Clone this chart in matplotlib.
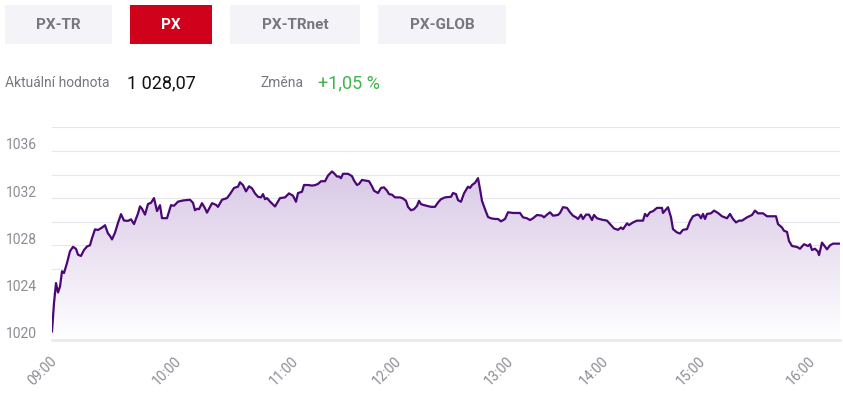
'''
    PX index intraday chart
'''

import numpy as np
import matplotlib
matplotlib.use('Agg')
import matplotlib.pyplot as plt
from matplotlib.patches import Rectangle
from matplotlib.colors import LinearSegmentedColormap
import matplotlib.transforms as mtransforms

plt.rcParams.update({'font.family': ['Roboto', 'DejaVu Sans']})

W, H = 843, 399

tabs = ['PX-TR', 'PX', 'PX-TRnet', 'PX-GLOB']
active_tab = 'PX'
current_value = '1 028,07'
change = '+1,05 %'

# position of each quote along the (ordinal) session axis
step = [0, 2, 4, 6, 8, 10, 12, 15, 18, 21, 24, 26, 29, 32, 35, 38, 40, 43, 46, 50,
        53, 56, 58, 60, 63, 66, 69, 72, 76, 79, 82, 86, 88, 90, 93, 96, 99, 102, 105, 108,
        110, 115, 119, 122, 126, 131, 138, 141, 143, 145, 147, 150, 153, 155, 160, 164, 166, 170, 175, 178,
        182, 186, 188, 191, 194, 197, 200, 203, 206, 209, 211, 213, 215, 218, 223, 228, 233, 237, 241, 244,
        246, 250, 252, 256, 260, 263, 266, 269, 273, 276, 280, 282, 285, 287, 289, 291, 296, 300, 302, 305,
        307, 310, 313, 317, 320, 322, 326, 329, 332, 335, 337, 340, 343, 348, 351, 354, 356, 359, 362, 365,
        367, 369, 371, 375, 379, 383, 386, 389, 393, 399, 401, 404, 406, 409, 412, 416, 418, 420, 423, 426,
        428, 430, 433, 436, 439, 443, 446, 449, 453, 456, 461, 468, 471, 475, 478, 481, 485, 490, 492, 495,
        498, 501, 506, 508, 511, 515, 518, 521, 524, 526, 529, 531, 534, 537, 540, 542, 545, 550, 555, 559,
        562, 566, 569, 571, 575, 577, 581, 585, 591, 593, 595, 598, 601, 605, 610, 611, 613, 616, 619, 621,
        625, 628, 631, 635, 638, 641, 645, 647, 649, 651, 653, 655, 659, 662, 666, 670, 675, 678, 681, 684,
        687, 690, 695, 700, 703, 706, 711, 715, 720, 724, 726, 730, 732, 735, 737, 740, 745, 748, 752, 756,
        758, 760, 763, 766, 767, 770, 772, 775, 778, 781, 788]

px_value = [1020.7, 1023.1, 1024.8, 1024.0, 1024.5, 1025.8, 1025.65, 1026.5, 1027.5, 1027.87,
            1027.7, 1027.2, 1027.1, 1027.6, 1027.9, 1028.0, 1028.6, 1029.35, 1029.3, 1029.5,
            1029.7, 1029.0, 1028.8, 1028.5, 1029.07, 1029.9, 1030.64, 1030.1, 1030.07, 1030.2,
            1029.8, 1030.7, 1031.3, 1031.1, 1030.6, 1031.5, 1031.6, 1032.0, 1030.9, 1031.4,
            1030.3, 1030.3, 1031.4, 1031.35, 1031.7, 1031.8, 1031.86, 1031.6, 1030.97, 1031.1,
            1031.06, 1031.57, 1031.14, 1030.77, 1031.57, 1031.43, 1031.26, 1031.86, 1032.0, 1032.34,
            1032.86, 1032.97, 1033.34, 1033.1, 1032.57, 1033.0, 1032.83, 1032.4, 1032.11, 1032.06,
            1032.34, 1031.91, 1032.0, 1031.71, 1031.29, 1032.0, 1032.06, 1032.4, 1032.2, 1031.69,
            1032.43, 1032.54, 1033.11, 1033.11, 1033.06, 1033.1, 1033.2, 1033.43, 1033.43, 1033.91,
            1034.26, 1034.11, 1033.83, 1033.83, 1033.69, 1034.06, 1034.06, 1033.86, 1033.49, 1033.11,
            1033.2, 1033.54, 1033.49, 1033.43, 1033.0, 1032.63, 1032.43, 1032.86, 1032.91, 1032.63,
            1032.34, 1032.29, 1032.06, 1032.06, 1031.97, 1031.77, 1031.26, 1030.97, 1031.06, 1031.34,
            1031.77, 1031.49, 1031.43, 1031.34, 1031.26, 1031.26, 1031.63, 1031.91, 1032.06, 1032.11,
            1032.43, 1032.34, 1031.83, 1031.69, 1032.4, 1032.97, 1032.86, 1033.11, 1033.29, 1033.69,
            1032.77, 1031.77, 1031.06, 1030.4, 1030.29, 1030.23, 1030.23, 1030.03, 1030.23, 1030.8,
            1030.74, 1030.74, 1030.37, 1030.29, 1030.14, 1030.29, 1030.57, 1030.51, 1030.37, 1030.6,
            1030.8, 1030.51, 1030.57, 1030.74, 1031.23, 1031.17, 1030.8, 1030.51, 1030.37, 1030.23,
            1030.6, 1030.23, 1030.6, 1030.6, 1030.14, 1030.57, 1030.29, 1030.17, 1030.09, 1029.71,
            1029.43, 1029.31, 1029.51, 1029.37, 1029.86, 1029.71, 1029.94, 1030.09, 1030.09, 1030.66,
            1030.46, 1030.8, 1030.89, 1031.17, 1031.17, 1030.74, 1030.94, 1031.23, 1030.37, 1029.37,
            1029.09, 1029.0, 1029.31, 1029.37, 1030.03, 1030.46, 1030.6, 1030.57, 1030.29, 1030.66,
            1030.23, 1030.66, 1030.71, 1030.94, 1030.74, 1030.46, 1030.29, 1030.66, 1030.23, 1029.94,
            1030.09, 1030.09, 1030.37, 1030.57, 1030.94, 1030.71, 1030.71, 1030.46, 1030.46, 1030.46,
            1029.8, 1029.51, 1029.23, 1029.14, 1028.37, 1027.94, 1027.86, 1027.71, 1028.09, 1027.94,
            1028.09, 1027.6, 1027.71, 1027.46, 1027.17, 1028.23, 1028.0, 1027.66, 1028.0, 1028.14,
            1028.14]

hour_labels = ['09:00', '10:00', '11:00', '12:00', '13:00', '14:00', '15:00', '16:00']
hour_steps = [0, 124, 241, 344, 456, 551, 648, 758]

y_labels = [1020, 1024, 1028, 1032, 1036]
y_grid = [1022, 1026, 1030, 1034, 1038]

LINE = '#4a0874'
GRID = '#e6e6ec'
LABEL = '#8c8c94'


def fx(px):
    return px / W


def fy(py):
    return 1 - py / H


fig = plt.figure(figsize=(W / 100, H / 100), dpi=100)

# tab buttons
tab_boxes = [(5, 112), (130, 212), (230, 360), (378, 506)]
for name, (x0, x1) in zip(tabs, tab_boxes):
    active = name == active_tab
    fig.add_artist(Rectangle((fx(x0), fy(44)), fx(x1 - x0), 39 / H,
                             transform=fig.transFigure,
                             facecolor='#d0021b' if active else '#f4f4f8',
                             edgecolor='none'))
    fig.text(fx((x0 + x1) / 2), fy(25), name, ha='center', va='center',
             fontsize=11, fontweight='bold',
             color='white' if active else '#767780')

fig.text(fx(5), fy(83), 'Aktuální hodnota', ha='left', va='center',
         fontsize=10, color='#77777f')
fig.text(fx(127), fy(83), current_value, ha='left', va='center',
         fontsize=13, color='#111111')
fig.text(fx(260), fy(83), 'Změna', ha='left', va='center',
         fontsize=10, color='#77777f')
fig.text(fx(318), fy(83), change, ha='left', va='center',
         fontsize=13, color='#3fb54c')

ax = fig.add_axes([fx(52), fy(339.7), fx(788), (339.7 - 127.3) / H])

x = np.array(step)
y = np.array(px_value)

# gradient area under the line
cmap = LinearSegmentedColormap.from_list('pxfill', ['#ffffff', '#ebe2f2', '#d6c6e4'])
grad = np.linspace(0, 1, 256).reshape(-1, 1)
img = ax.imshow(grad, extent=[x.min(), x.max(), 1020, 1035], origin='lower',
                aspect='auto', cmap=cmap, zorder=1)
poly = ax.fill_between(x, y, 1020, facecolor='none', edgecolor='none')
clip = poly.get_paths()[0]
img.set_clip_path(clip, transform=ax.transData)

ax.plot(x, y, color=LINE, lw=1.6, zorder=3)

ax.set_xlim(0, 788)
ax.set_ylim(1020, 1038)

ax.set_yticks(y_labels)
ax.set_yticks(y_grid, minor=True)
ax.set_yticklabels([str(v) for v in y_labels])
ax.yaxis.grid(True, which='both', color=GRID, lw=0.8, zorder=0)
ax.tick_params(axis='y', which='both', length=0, pad=11, labelsize=10,
               labelcolor=LABEL)
offset = mtransforms.ScaledTranslation(0, 7 / 100, fig.dpi_scale_trans)
for lab in ax.get_yticklabels():
    lab.set_transform(lab.get_transform() + offset)

ax.set_xticks(hour_steps)
ax.set_xticklabels(hour_labels, rotation=45, ha='right', va='top',
                   rotation_mode='anchor')
ax.tick_params(axis='x', length=0, pad=10, labelsize=10, labelcolor=LABEL)
xoff = mtransforms.ScaledTranslation(-2 / 100, 0, fig.dpi_scale_trans)
for lab in ax.get_xticklabels():
    lab.set_transform(lab.get_transform() + xoff)

for s in ['top', 'left', 'right']:
    ax.spines[s].set_visible(False)
ax.spines['bottom'].set_color('#ebebee')
ax.spines['bottom'].set_linewidth(2)
ax.set_axisbelow(True)

plt.savefig('out.png', dpi=100)
